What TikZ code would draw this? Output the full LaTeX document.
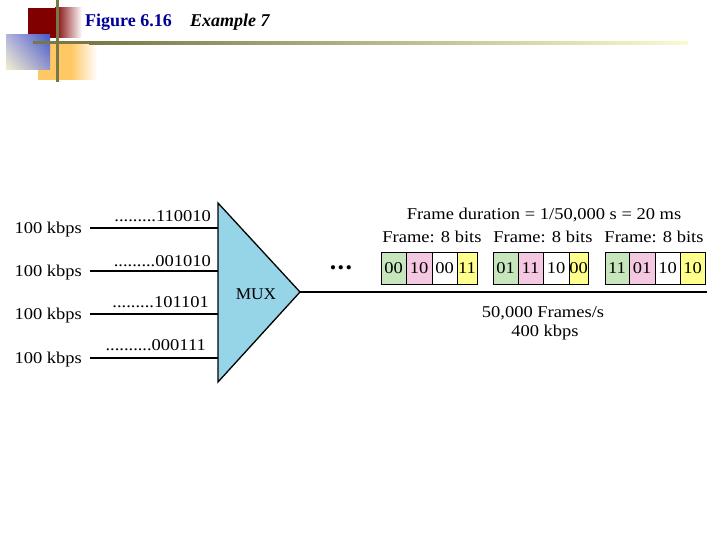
\documentclass[tikz,border=0pt]{standalone}
\usepackage{fontspec}
\usetikzlibrary{shadings}
\setmainfont{Liberation Serif}
\newfontfamily\df[FakeStretch=1.12]{Liberation Serif}
\newfontfamily\mf[FakeStretch=1.05]{Liberation Serif}
\definecolor{dred}{RGB}{128,0,0}
\definecolor{dorange}{RGB}{255,200,100}
\definecolor{olv}{RGB}{120,120,70}
\definecolor{olvmid}{RGB}{195,195,150}
\definecolor{olvend}{RGB}{250,250,210}
\definecolor{ttlblue}{RGB}{0,0,150}
\definecolor{muxblue}{RGB}{150,212,232}
\definecolor{cgreen}{RGB}{200,230,190}
\definecolor{cpink}{RGB}{245,200,225}
\definecolor{cyellow}{RGB}{255,255,140}
\definecolor{bqul}{RGB}{180,180,220}
\definecolor{bqur}{RGB}{70,90,200}
\definecolor{bqll}{RGB}{242,240,205}
\definecolor{bqlr}{RGB}{150,150,205}
\tikzset{
  txt/.style={font=\df\fontsize{16.5}{16.5}\selectfont, inner sep=0pt},
  wire/.style={line width=1.3pt, black},
  cell/.style={draw=black, line width=0.9pt, minimum height=32pt, inner sep=0pt, font=\df\fontsize{16.5}{16.5}\selectfont},
  deco/.style={line width=3pt, olv}
}
\begin{document}
\begin{tikzpicture}[x=1pt,y=-1pt]
\useasboundingbox (0,0) rectangle (720,540);
% decoration
\fill[dred] (28,8) rectangle (56,38);
\shade[left color=dred, right color=white] (55,8) rectangle (82,38);
\fill[dorange] (38,43) rectangle (72,80);
\shade[left color=dorange, right color=white] (71,43) rectangle (97,80);
\shade[upper left=bqul, upper right=bqur, lower left=bqll, lower right=bqlr] (6,35) rectangle (50,70);
\draw[deco] (57,0) -- (57,82);
\fill[olv] (33,41.5) rectangle (90,44.5);
\shade[left color=olv, middle color=olvmid, right color=olvend] (89,41.5) rectangle (688,44.5);
% title
\node[anchor=base west, inner sep=0pt, font=\fontsize{18}{18}\selectfont\bfseries, text=ttlblue] (title) at (85,27) {Figure 6.16};
\node[anchor=base west, inner sep=0pt, font=\fontsize{18}{18}\selectfont\bfseries\itshape] (ex) at (190,27) {Example 7};
% MUX
\coordinate (mt) at (218,203);
\coordinate (mb) at (218,382);
\coordinate (mo) at (300,292);
\draw[wire, fill=muxblue] (mt) -- (mo) -- (mb) -- cycle;
\node[anchor=base, inner sep=0pt, font=\mf\fontsize{16.5}{16.5}\selectfont] (mux) at (256,299) {MUX};
% inputs
\foreach \i/\y in {1/228,2/271,3/314,4/358}{
  \coordinate (s\i) at (90,\y);
  \coordinate (m\i) at (218,\y);
  \node[txt, anchor=base east] (l\i) at (82,\y+5.5) {100 kbps};
  \draw[wire] (s\i) -- (m\i);
}
\node[txt, anchor=base east] (b1) at (211,222) {.........110010};
\node[txt, anchor=base east] (b2) at (211,266) {.........001010};
\node[txt, anchor=base east] (b3) at (209,307) {.........101101};
\node[txt, anchor=base east] (b4) at (206,350) {..........000111};
% output
\coordinate (oe) at (707,292);
\draw[wire] (mo) -- (oe);
\node[anchor=base, inner sep=0pt, font=\fontsize{26}{26}\selectfont\bfseries] (dots) at (341,269) {.\kern1.5pt.\kern1.5pt.};
% frames
\node[cell, fill=cgreen, minimum width=25pt] (a1) at (393.5,268) {00};
\node[cell, fill=cpink, minimum width=26pt] (a2) at (419,268) {10};
\node[cell, fill=white, minimum width=25pt] (a3) at (444.5,268) {00};
\node[cell, fill=cyellow, minimum width=20pt] (a4) at (467,268) {11};
\node[cell, fill=cgreen, minimum width=25pt] (c1) at (505.5,268) {01};
\node[cell, fill=cpink, minimum width=25pt] (c2) at (530.5,268) {11};
\node[cell, fill=white, minimum width=26pt] (c3) at (556,268) {10};
\node[cell, fill=cyellow, minimum width=19pt] (c4) at (578.5,268) {00};
\node[cell, fill=cgreen, minimum width=24pt] (d1) at (617,268) {11};
\node[cell, fill=cpink, minimum width=26pt] (d2) at (642,268) {01};
\node[cell, fill=white, minimum width=25pt] (d3) at (667.5,268) {10};
\node[cell, fill=cyellow, minimum width=25pt] (d4) at (692.5,268) {10};
% labels
\node[txt, anchor=base] (dur) at (544,220) {Frame duration = 1/50,000 s = 20 ms};
\node[txt, anchor=base] (fr1) at (432,242) {Frame: 8 bits};
\node[txt, anchor=base] (fr2) at (543,242) {Frame: 8 bits};
\node[txt, anchor=base] (fr3) at (654,242) {Frame: 8 bits};
\node[txt, anchor=base] (rate) at (543,317) {50,000 Frames/s};
\node[txt, anchor=base] (kb) at (545,336) {400 kbps};
\end{tikzpicture}
\end{document}
